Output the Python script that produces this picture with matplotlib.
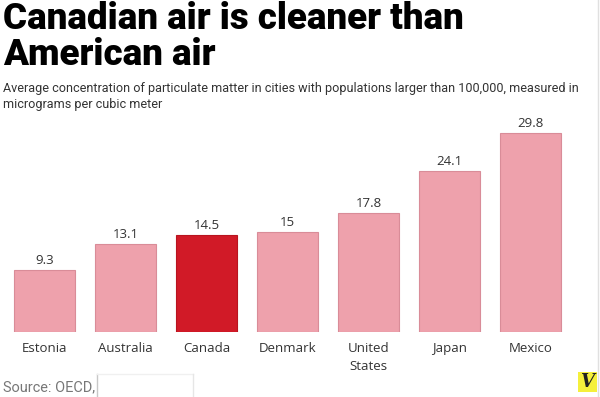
import matplotlib
matplotlib.use("Agg")
import matplotlib.pyplot as plt
from matplotlib.lines import Line2D
from matplotlib.patches import Rectangle

countries = ["Estonia", "Australia", "Canada", "Denmark", "United\nStates", "Japan", "Mexico"]
values = [9.3, 13.1, 14.5, 15, 17.8, 24.1, 29.8]
value_labels = ["9.3", "13.1", "14.5", "15", "17.8", "24.1", "29.8"]
highlight = "Canada"

title_lines = ["Canadian air is cleaner than", "American air"]
subtitle_lines = ["Average concentration of particulate matter in cities with populations larger than 100,000, measured in",
                  "micrograms per cubic meter"]
source = "Source: OECD,"

pink = "#eea1ac"
pink_edge = "#d98c98"
red = "#d11a27"
red_edge = "#b8141f"

W, H = 600, 397
fig = plt.figure(figsize=(W / 100, H / 100), dpi=100)
fig.patch.set_facecolor("white")
renderer = fig.canvas.get_renderer()

def px(x, y):
    # pixel coords from top-left -> figure fraction
    return x / W, 1 - y / H

def fit_width(txt, target):
    # shrink/grow the font so the text spans about `target` pixels
    w = txt.get_window_extent(renderer).width
    txt.set_fontsize(txt.get_fontsize() * target / w)

# axes placed in pixel terms: baseline at y=332, 6.68 px per unit
ymax = 32
ax = fig.add_axes([4 / W, (H - 332) / H, 567 / W, ymax * 6.68 / H])
x = list(range(len(countries)))
colors = [red if c == highlight else pink for c in countries]
edges = [red_edge if c == highlight else pink_edge for c in countries]
bars = ax.bar(x, values, width=0.753, color=colors, edgecolor=edges, linewidth=0.8)
ax.set_xlim(-0.5, len(countries) - 0.5)
ax.set_ylim(0, ymax)
ax.axis("off")

for rect, lab in zip(bars, value_labels):
    ax.annotate(lab, xy=(rect.get_x() + rect.get_width() / 2, rect.get_height()),
                xytext=(0, 4.5), textcoords="offset points", ha="center", va="baseline",
                fontsize=9.5, color="#333333", family="Open Sans")

for xi, c in zip(x, countries):
    ax.annotate(c, xy=(xi, 0), xytext=(0, -7), textcoords="offset points",
                ha="center", va="top", fontsize=9.5, color="#333333",
                family="Open Sans", linespacing=1.5)

t1 = fig.text(*px(3, 29), title_lines[0], ha="left", va="baseline", fontsize=25,
              fontweight="heavy", family="Roboto", color="black")
fit_width(t1, 462)
fig.text(*px(3, 65), title_lines[1], ha="left", va="baseline", fontsize=t1.get_fontsize(),
         fontweight="heavy", family="Roboto", color="black")

s1 = fig.text(*px(3, 92), subtitle_lines[0], ha="left", va="baseline", fontsize=10,
              family="Roboto", color="#333333")
fit_width(s1, 575)
fig.text(*px(3, 108), subtitle_lines[1], ha="left", va="baseline",
         fontsize=s1.get_fontsize(), family="Roboto", color="#333333")

src = fig.text(*px(3, 391), source, ha="left", va="baseline", fontsize=10,
               family="Roboto", color="#777777")
fit_width(src, 92)

# faint box after the source, right border and logo
fig.add_artist(Line2D([97 / W, 97 / W], [0, 1 - 374 / H], transform=fig.transFigure,
                      color="#c8c8c8", linewidth=1))
fig.add_artist(Line2D([97 / W, 193 / W], [1 - 374 / H, 1 - 374 / H], transform=fig.transFigure,
                      color="#f0f0f0", linewidth=1))
fig.add_artist(Line2D([193 / W, 193 / W], [0, 1 - 374 / H], transform=fig.transFigure,
                      color="#e6e6e6", linewidth=1))
fig.add_artist(Line2D([597.5 / W, 597.5 / W], [0, 1], transform=fig.transFigure,
                      color="#e0e0e0", linewidth=1))
fig.add_artist(Rectangle(px(578, 392), 19 / W, 20 / H, transform=fig.transFigure,
                         facecolor="#f5f03c", edgecolor="none"))
fig.text(*px(587.5, 382), "V", ha="center", va="center", fontsize=13,
         fontweight="bold", fontstyle="italic", family="DejaVu Serif", color="#222222")

fig.savefig("out.png", dpi=100)
